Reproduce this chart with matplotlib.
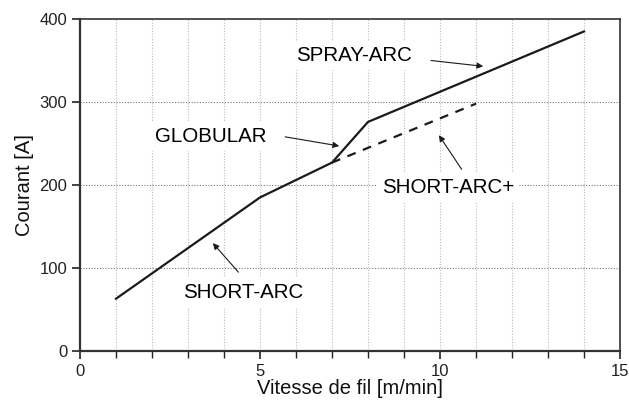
import matplotlib
matplotlib.use("Agg")
import matplotlib.pyplot as plt
from matplotlib.ticker import MultipleLocator

plt.rcParams['font.family'] = ['Liberation Sans', 'DejaVu Sans']

# Data
solid_x = [1, 5, 7, 8, 14]
solid_y = [63, 185, 227, 276, 385]
dash_x = [7, 11]
dash_y = [227, 298]

labels = ["SPRAY-ARC", "GLOBULAR", "SHORT-ARC+", "SHORT-ARC"]
label_pos = [(7.6, 356), (3.64, 259), (10.22, 197), (4.53, 71)]
arrow_start = [(9.75, 350), (5.7, 258), (10.6, 219), (4.4, 95)]
arrow_end = [(11.2, 343), (7.2, 247), (9.97, 260), (3.69, 130)]

fig = plt.figure(figsize=(6.29, 4.03), dpi=100)
ax = fig.add_axes([80/629, 52/403, 540/629, 332/403])

ax.set_xlim(0, 15)
ax.set_ylim(0, 400)

# grid
for xv in range(1, 15):
    ax.axvline(xv, color='#bbbbbb', lw=0.8, ls=(0, (1, 1.5)), zorder=0)
for yv in [100, 200, 300]:
    ax.axhline(yv, color='#777777', lw=0.8, ls=(0, (1, 1.5)), zorder=0)

ax.plot(solid_x, solid_y, color='#1a1a1a', lw=1.6, zorder=3)
ax.plot(dash_x, dash_y, color='#1a1a1a', lw=1.6, ls=(0, (4, 3.5)), zorder=3)

for lab, pos, s, e in zip(labels, label_pos, arrow_start, arrow_end):
    ax.text(pos[0], pos[1], lab, fontsize=14.8, ha='center', va='center', zorder=4,
            bbox=dict(boxstyle='square,pad=0.25', fc='white', ec='none'))
    ax.annotate('', xy=e, xytext=s,
                arrowprops=dict(arrowstyle='-|>', color='#1a1a1a', lw=0.8,
                                mutation_scale=9, shrinkA=0, shrinkB=0), zorder=5)

ax.xaxis.set_major_locator(MultipleLocator(5))
ax.xaxis.set_minor_locator(MultipleLocator(1))
ax.yaxis.set_major_locator(MultipleLocator(100))
ax.tick_params(axis='both', which='major', direction='out', length=6, width=1.2,
               labelsize=12, color='#222222', labelcolor='#222222')
ax.tick_params(axis='x', which='minor', direction='out', length=5, width=1.0, color='#222222')
ax.tick_params(axis='x', pad=3)
ax.tick_params(axis='y', pad=3)

for sp in ['left', 'bottom']:
    ax.spines[sp].set_linewidth(1.6)
    ax.spines[sp].set_color('#333333')
for sp in ['top', 'right']:
    ax.spines[sp].set_linewidth(1.2)
    ax.spines[sp].set_color('#333333')

ax.set_xlabel('Vitesse de fil [m/min]', fontsize=14.5, labelpad=0, color='#111111')
ax.set_ylabel('Courant [A]', fontsize=14.5, labelpad=4, color='#111111')

fig.savefig('out.png', dpi=100)
